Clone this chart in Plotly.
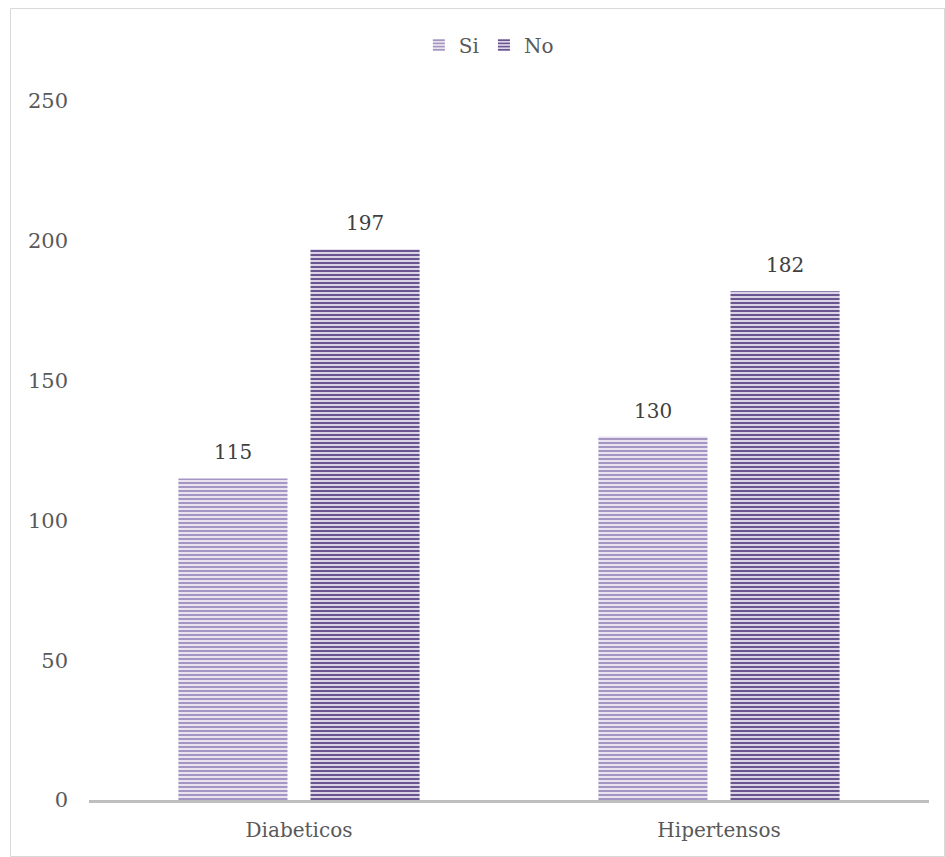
import plotly.graph_objects as go

# Patients by condition
categories = ["Diabeticos", "Hipertensos"]
si_values = [115, 130]
no_values = [197, 182]
y_ticks = [0, 50, 100, 150, 200, 250]

FONT = "DejaVu Serif"
W, H = 945, 857
ML, MR, MT, MB = 89, 16, 101, 57
plot_w = W - ML - MR
plot_h = H - MT - MB


def px_x(px):
    return (px - ML) / plot_w


def px_y(py):
    return (H - MB - py) / plot_h


series = [
    ("Si", si_values, "#a595c2", "#e8e3ef", -0.5),
    ("No", no_values, "#6b5591", "#dbd4e7", 0.5),
]

fig = go.Figure()
for name, vals, fg, bg, _ in series:
    fig.add_trace(go.Bar(
        name=name, x=categories, y=vals,
        marker=dict(
            color=bg,
            line=dict(width=0),
            pattern=dict(shape="-", fgcolor=fg, bgcolor=bg, fgopacity=1,
                         size=4, solidity=0.5, fillmode="overlay"),
        ),
    ))

# value labels above each bar
BARGAP, GROUPGAP = 0.371, 0.174
slot = (1 - BARGAP) / 2
annotations = []
for name, vals, fg, bg, off in series:
    for i, v in enumerate(vals):
        annotations.append(dict(
            x=i + off * slot, y=v, xref="x", yref="y",
            text=str(v), showarrow=False, yanchor="bottom", yshift=12,
            font=dict(family=FONT, size=20, color="#404040"),
        ))

fig.update_layout(
    width=W, height=H,
    margin=dict(l=ML, r=MR, t=MT, b=MB, pad=0),
    paper_bgcolor="white", plot_bgcolor="white",
    barmode="group", bargap=BARGAP, bargroupgap=GROUPGAP,
    font=dict(family=FONT, color="#595959", size=19),
    showlegend=True,
    legend=dict(
        orientation="h", x=0.476, y=px_y(45), xanchor="center", yanchor="middle",
        font=dict(family=FONT, size=20, color="#595959"),
        itemwidth=30, traceorder="normal", itemclick=False,
    ),
    xaxis=dict(
        showgrid=False, showline=True, linecolor="#bfbfbf", linewidth=3,
        ticks="", tickfont=dict(family=FONT, size=20, color="#595959"),
        ticklabelstandoff=10, zeroline=False,
    ),
    yaxis=dict(
        range=[0, 250], tickvals=y_ticks, showgrid=False, showline=False,
        zeroline=False, ticks="",
        tickfont=dict(family=FONT, size=21, color="#595959"),
        ticklabelstandoff=20,
    ),
    annotations=annotations,
    shapes=[dict(
        type="rect", xref="paper", yref="paper",
        x0=px_x(10.5), x1=px_x(944.5), y0=px_y(856.5), y1=px_y(8.5),
        line=dict(color="#d9d9d9", width=1), layer="below",
    )],
)

fig.write_html("out.html")
